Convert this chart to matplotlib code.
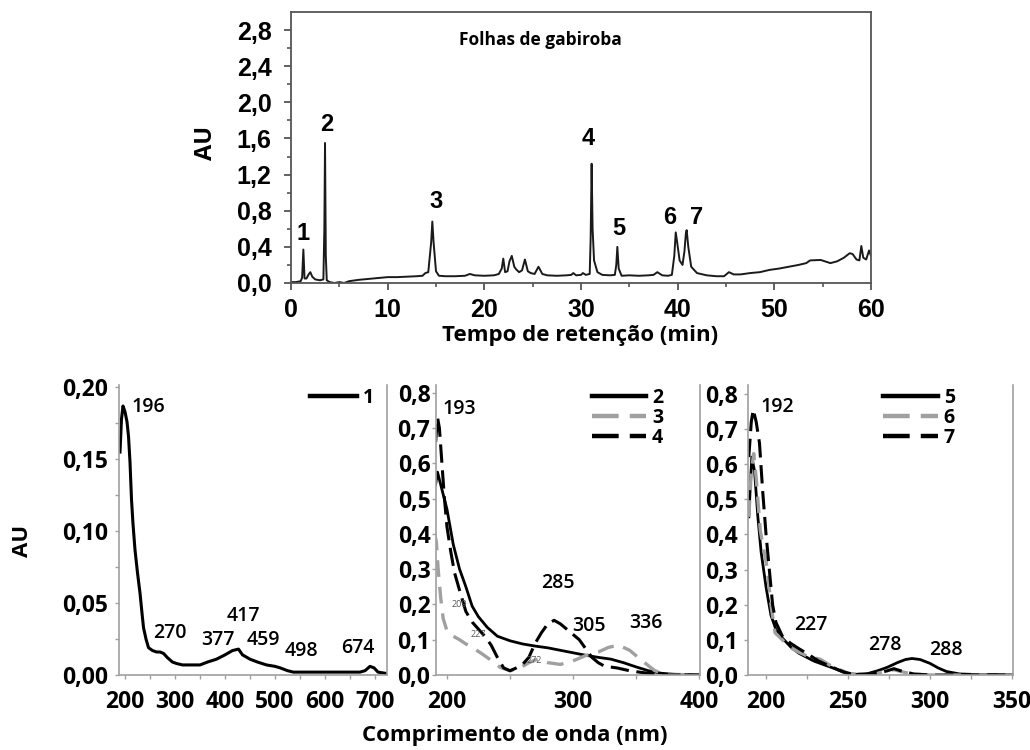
import numpy as np
import matplotlib
matplotlib.use('Agg')
import matplotlib.pyplot as plt
from matplotlib.lines import Line2D

plt.rcParams['font.family'] = ['Open Sans', 'DejaVu Sans']

# ---------------- chromatogram (top) ----------------
chrom_t = [0.0, 0.5, 1.0, 1.15, 1.28, 1.4, 1.6, 1.85, 2.0, 2.2,
           2.5, 3.0, 3.35, 3.45, 3.52, 3.6, 3.7, 4.0, 4.5, 5.0,
           5.5, 6.0, 7.0, 8.0, 9.0, 10.0, 11.0, 12.0, 13.0, 13.6,
           13.9, 14.2, 14.5, 14.62, 14.75, 15.0, 15.3, 16.0, 17.0, 18.0,
           18.5, 19.0, 20.0, 21.0, 21.5, 21.8, 21.96, 22.15, 22.4, 22.6,
           22.84, 23.1, 23.3, 23.6, 23.9, 24.2, 24.5, 24.8, 25.2, 25.6,
           26.0, 26.5, 27.5, 28.5, 29.0, 29.2, 29.5, 30.0, 30.2, 30.5,
           30.9, 31.0, 31.1, 31.2, 31.35, 31.7, 32.2, 33.0, 33.5, 33.65,
           33.76, 33.9, 34.2, 35.0, 36.0, 37.0, 37.5, 37.9, 38.4, 39.0,
           39.4, 39.65, 39.8, 39.95, 40.2, 40.5, 40.7, 40.85, 40.93, 41.1,
           41.4, 42.0, 43.0, 44.0, 44.8, 45.3, 45.8, 46.5, 47.5, 48.5,
           49.5, 50.5, 51.5, 52.5, 53.3, 53.7, 54.8, 55.8, 56.5, 57.2,
           57.8, 58.1, 58.5, 58.8, 59.0, 59.2, 59.5, 59.8, 60.0]
chrom_au = [0.01, 0.01, 0.02, 0.06, 0.37, 0.05, 0.05, 0.10, 0.12, 0.07,
            0.04, 0.03, 0.04, 0.6, 1.55, 0.3, 0.03, 0.01, 0.0, 0.01,
            0.0, 0.02, 0.035, 0.045, 0.055, 0.065, 0.065, 0.07, 0.075, 0.08,
            0.11, 0.12, 0.45, 0.68, 0.45, 0.13, 0.08, 0.075, 0.075, 0.08,
            0.10, 0.085, 0.08, 0.085, 0.10, 0.16, 0.27, 0.12, 0.13, 0.24,
            0.30, 0.18, 0.15, 0.12, 0.14, 0.26, 0.13, 0.11, 0.10, 0.18,
            0.10, 0.085, 0.08, 0.085, 0.09, 0.11, 0.085, 0.09, 0.11, 0.09,
            0.10, 0.5, 1.32, 0.6, 0.25, 0.12, 0.09, 0.085, 0.09, 0.2,
            0.40, 0.16, 0.08, 0.085, 0.08, 0.085, 0.09, 0.12, 0.085, 0.08,
            0.09, 0.3, 0.56, 0.45, 0.25, 0.20, 0.35, 0.55, 0.585, 0.40,
            0.18, 0.11, 0.085, 0.075, 0.075, 0.12, 0.095, 0.095, 0.11, 0.12,
            0.145, 0.16, 0.18, 0.20, 0.22, 0.25, 0.255, 0.22, 0.24, 0.28,
            0.33, 0.32, 0.26, 0.25, 0.41, 0.28, 0.26, 0.36, 0.30]

peak_labels = ['1', '2', '3', '4', '5', '6', '7']
peak_lab_t = [1.28, 3.7, 15.0, 30.7, 33.9, 39.2, 42.0]
peak_lab_au = [0.55, 1.75, 0.90, 1.60, 0.60, 0.72, 0.72]

top_yticks = [0.0, 0.4, 0.8, 1.2, 1.6, 2.0, 2.4, 2.8]
top_xticks = [0, 10, 20, 30, 40, 50, 60]

# ---------------- UV spectra (bottom) ----------------
s1_nm = [190, 193, 196, 200, 204, 207, 210, 213, 216, 220,
         225, 230, 234, 237, 242, 247, 255, 263, 270, 277,
         285, 295, 303, 315, 330, 350, 365, 383, 400, 415,
         427, 435, 450, 465, 483, 500, 510, 525, 537, 560,
         600, 640, 670, 680, 690, 698, 706, 724]
s1_au = [0.155, 0.178, 0.187, 0.183, 0.176, 0.166, 0.148, 0.122, 0.105, 0.087,
         0.071, 0.057, 0.043, 0.033, 0.025, 0.019, 0.017, 0.016, 0.016, 0.015,
         0.012, 0.009, 0.008, 0.007, 0.007, 0.007, 0.009, 0.011, 0.014, 0.017,
         0.018, 0.014, 0.011, 0.009, 0.007, 0.006, 0.005, 0.003, 0.002, 0.002,
         0.002, 0.002, 0.002, 0.003, 0.006, 0.005, 0.002, 0.001]

s2_nm = [191, 192.5, 195, 200, 205, 210, 215, 220, 225, 232,
         240, 250, 260, 270, 280, 290, 300, 310, 320, 330,
         340, 350, 360, 370, 380, 400]
s2_au = [0.54, 0.575, 0.54, 0.47, 0.37, 0.30, 0.25, 0.195, 0.165, 0.135,
         0.11, 0.097, 0.088, 0.082, 0.077, 0.07, 0.063, 0.056, 0.05, 0.045,
         0.035, 0.023, 0.012, 0.005, 0.002, 0.0]

s3_nm = [190, 191.5, 193, 195, 197, 200, 205, 210, 215, 220,
         227, 235, 242, 250, 258, 265, 272, 280, 290, 300,
         310, 320, 328, 336, 345, 355, 365, 375, 400]
s3_au = [0.40, 0.38, 0.30, 0.22, 0.16, 0.125, 0.11, 0.10, 0.088, 0.078,
         0.062, 0.042, 0.022, 0.012, 0.02, 0.035, 0.045, 0.035, 0.03, 0.04,
         0.055, 0.065, 0.078, 0.085, 0.07, 0.04, 0.012, 0.002, 0.0]

s4_nm = [191, 192.5, 194, 196, 198, 200, 203, 206, 210, 215,
         220, 225, 230, 235, 240, 245, 250, 255, 260, 265,
         270, 275, 280, 285, 290, 295, 300, 305, 310, 315,
         320, 325, 335, 345, 355, 365, 375, 400]
s4_au = [0.66, 0.73, 0.70, 0.60, 0.50, 0.42, 0.35, 0.29, 0.24, 0.18,
         0.15, 0.13, 0.11, 0.085, 0.05, 0.02, 0.012, 0.02, 0.03, 0.05,
         0.09, 0.12, 0.145, 0.155, 0.145, 0.13, 0.115, 0.10, 0.075, 0.05,
         0.035, 0.025, 0.02, 0.012, 0.007, 0.003, 0.0, 0.0]

s5_nm = [189.5, 191.3, 193, 195, 197, 200, 203, 206, 210, 215,
         220, 229, 236, 242, 247, 250, 255, 262, 268, 274,
         280, 285, 289, 294, 300, 305, 310, 318, 330, 350]
s5_au = [0.45, 0.62, 0.58, 0.45, 0.35, 0.25, 0.17, 0.13, 0.105, 0.08,
         0.062, 0.04, 0.028, 0.018, 0.008, 0.004, 0.002, 0.004, 0.012, 0.022,
         0.035, 0.044, 0.047, 0.044, 0.033, 0.02, 0.01, 0.003, 0.001, 0.001]

s6_nm = [189.5, 191, 192.5, 194, 196.5, 198.5, 200.5, 203, 205.5, 210,
         214, 220, 226, 233, 240, 245, 250, 258, 266, 272,
         278, 284, 290, 300, 350]
s6_au = [0.45, 0.58, 0.63, 0.56, 0.41, 0.36, 0.31, 0.20, 0.12, 0.10,
         0.08, 0.065, 0.052, 0.045, 0.025, 0.015, 0.005, 0.0, 0.002, 0.01,
         0.015, 0.008, 0.002, 0.0, 0.0]

s7_nm = [189.5, 191, 192.2, 194, 196, 198, 200, 202, 204, 206,
         210, 215, 220, 226, 232, 238, 244, 248, 252, 260,
         268, 274, 278, 282, 290, 300, 350]
s7_au = [0.62, 0.72, 0.755, 0.72, 0.66, 0.52, 0.40, 0.30, 0.20, 0.15,
         0.11, 0.09, 0.075, 0.058, 0.04, 0.027, 0.015, 0.008, 0.003, 0.001,
         0.005, 0.012, 0.018, 0.012, 0.003, 0.0, 0.0]

# annotations (text, nm, AU)
ann1 = [('196', 246, 0.186), ('270', 290, 0.029), ('377', 386, 0.024),
        ('417', 436, 0.041), ('459', 476, 0.024), ('498', 552, 0.017),
        ('674', 666, 0.0185)]
ann2 = [('193', 210, 0.754), ('285', 288, 0.26), ('305', 313, 0.14),
        ('336', 358, 0.146)]
ann2_small = [('209', 210, 0.20), ('227', 225, 0.115), ('272', 269, 0.041)]
ann3 = [('192', 207, 0.763), ('227', 227, 0.141), ('278', 272.5, 0.084),
        ('288', 310, 0.07)]

W, H = 1030, 750
fig = plt.figure(figsize=(W / 100, H / 100), dpi=100)


def box(l, t, r, b):
    return [l / W, 1 - b / H, (r - l) / W, (b - t) / H]


#### top chart ####
ax = fig.add_axes(box(291, 12, 871, 283))
ax.plot(chrom_t, chrom_au, color='#1a1a1a', lw=1.4)
ax.set_xlim(0, 60)
ax.set_ylim(0, 3.0)
ax.set_xticks(top_xticks)
ax.set_xticks(np.arange(5, 60, 10), minor=True)
ax.set_yticks(top_yticks)
ax.set_yticks(np.arange(0.2, 3.0, 0.4), minor=True)
ax.set_yticklabels([('%.1f' % v).replace('.', ',') for v in top_yticks])
for lab in ax.get_xticklabels() + ax.get_yticklabels():
    lab.set_family(['Liberation Sans'])
    lab.set_fontweight('bold')
    lab.set_fontsize(18)
ax.tick_params(which='major', length=5, width=1.3, color='#555555', pad=6)
ax.tick_params(which='minor', length=3, width=1.2, color='#555555')
ax.tick_params(axis='y', pad=9)
for s in ax.spines.values():
    s.set_color('#555555')
    s.set_linewidth(1.3)
for lab, t, a in zip(peak_labels, peak_lab_t, peak_lab_au):
    ax.text(t, a, lab, ha='center', va='center', fontsize=17, fontweight='bold',
            family=['Liberation Sans'])
ax.text(0.43, 0.895, 'Folhas de gabiroba', transform=ax.transAxes, ha='center',
        va='center', fontsize=12.5, fontweight='bold')

fig.text(206 / W, 1 - 143 / H, 'AU', rotation=90, ha='center', va='center',
         fontsize=17, fontweight='bold')
fig.text(580 / W, 1 - 335 / H, 'Tempo de retenção (min)', ha='center',
         va='center', fontsize=16, fontweight='bold')

#### bottom panels ####
gray = '#a0a0a0'
dash_blk = (0, (6, 2.5))
dash_gry = (0, (5, 3))


def style_bottom(a, yt, ylabels, xt, xminor, ypad):
    a.set_yticks(yt)
    a.set_yticklabels(ylabels)
    a.set_xticks(xt)
    a.set_xticks(xminor, minor=True)
    for lab in a.get_xticklabels() + a.get_yticklabels():
        lab.set_fontweight('bold')
        lab.set_fontsize(16.5)
    a.tick_params(which='both', color=gray, width=1, length=3)
    a.tick_params(axis='x', pad=8)
    a.tick_params(axis='y', pad=ypad)
    a.spines['top'].set_visible(False)
    for k in ['left', 'bottom', 'right']:
        a.spines[k].set_color(gray)
        a.spines[k].set_linewidth(1.2)


def legend_bottom(a, handles, labels, right, hl):
    leg = a.legend(handles=handles, labels=labels, loc='upper right',
                   frameon=False, fontsize=14, handlelength=hl,
                   handletextpad=0.3, labelspacing=0.0, borderaxespad=0.0,
                   borderpad=0.0, bbox_to_anchor=(right, 0.99))
    for t in leg.get_texts():
        t.set_fontweight('bold')


a1 = fig.add_axes(box(119, 385, 387, 675))
a1.plot(s1_nm, s1_au, color='black', lw=2.2)
a1.set_xlim(188, 724)
a1.set_ylim(0, 0.2016)
yt1 = [0.0, 0.05, 0.10, 0.15, 0.20]
style_bottom(a1, yt1, [('%.2f' % v).replace('.', ',') for v in yt1],
             [200, 300, 400, 500, 600, 700], np.arange(250, 724, 100), 5)
a1.set_yticks(np.arange(0.025, 0.2, 0.05), minor=True)
for txt, x, y in ann1:
    a1.text(x, y, txt, ha='center', va='center', fontsize=14,
            fontweight='semibold')
legend_bottom(a1, [Line2D([], [], color='black', lw=3.2)], ['1'], 0.95, 2.4)

a2 = fig.add_axes(box(436, 385, 700, 675))
a2.plot(s2_nm, s2_au, color='black', lw=2.0)
a2.plot(s3_nm, s3_au, color=gray, lw=2.4, linestyle=dash_gry)
a2.plot(s4_nm, s4_au, color='black', lw=2.2, linestyle=dash_blk)
a2.set_xlim(191.3, 400.8)
a2.set_ylim(0, 0.822)
yt2 = [0.0, 0.1, 0.2, 0.3, 0.4, 0.5, 0.6, 0.7, 0.8]
style_bottom(a2, yt2, [('%.1f' % v).replace('.', ',') for v in yt2],
             [200, 300, 400], [250, 350], 1)
for txt, x, y in ann2:
    a2.text(x, y, txt, ha='center', va='center', fontsize=14,
            fontweight='semibold')
for txt, x, y in ann2_small:
    a2.text(x, y, txt, ha='center', va='center', fontsize=6.5, color='#555555')
handles = [Line2D([], [], color='black', lw=3.2),
           Line2D([], [], color=gray, lw=3.2, linestyle=(0, (6, 2.5))),
           Line2D([], [], color='black', lw=3.2, linestyle=(0, (6, 2.5)))]
legend_bottom(a2, handles, ['2', '3', '4'], 0.86, 2.8)

a3 = fig.add_axes(box(748, 385, 1013, 675))
a3.plot(s5_nm, s5_au, color='black', lw=2.0)
a3.plot(s6_nm, s6_au, color=gray, lw=2.4, linestyle=dash_gry)
a3.plot(s7_nm, s7_au, color='black', lw=2.2, linestyle=dash_blk)
a3.set_xlim(189, 350.6)
a3.set_ylim(0, 0.825)
style_bottom(a3, yt2, [('%.1f' % v).replace('.', ',') for v in yt2],
             [200, 250, 300, 350], [225, 275, 325], 4)
for txt, x, y in ann3:
    a3.text(x, y, txt, ha='center', va='center', fontsize=14,
            fontweight='semibold')
legend_bottom(a3, handles, ['5', '6', '7'], 0.78, 2.8)

fig.text(22 / W, 1 - 541 / H, 'AU', rotation=90, ha='center', va='center',
         fontsize=16, fontweight='bold')
fig.text(515 / W, 1 - 735 / H, 'Comprimento de onda (nm)', ha='center',
         va='center', fontsize=16, fontweight='bold')

fig.savefig('out.png', dpi=100)
